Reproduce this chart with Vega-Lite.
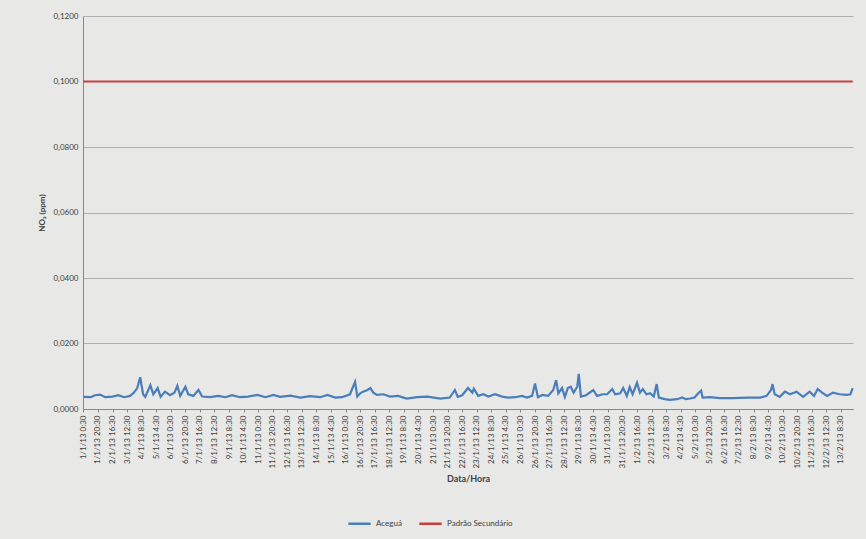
{
  "$schema": "https://vega.github.io/schema/vega-lite/v6.json",
  "autosize": "none",
  "width": 770,
  "height": 393,
  "padding": {"left": 83, "top": 16, "right": 13, "bottom": 130},
  "background": "#e8e8e6",
  "config": {
    "font": "Lato",
    "locale": {"number": {"decimal": ",", "thousands": ".", "grouping": [3], "currency": ["R$", ""]}},
    "view": {"stroke": null, "fill": "#e8e8e6"}
  },
  "data": {"values": [
    {"date": "2013-01-01T00:30", "value": 0.0037, "serie": "Aceguá"},
    {"date": "2013-01-01T10:30", "value": 0.0036, "serie": "Aceguá"},
    {"date": "2013-01-01T16:30", "value": 0.0042, "serie": "Aceguá"},
    {"date": "2013-01-01T23:30", "value": 0.0044, "serie": "Aceguá"},
    {"date": "2013-01-02T06:30", "value": 0.0036, "serie": "Aceguá"},
    {"date": "2013-01-02T16:30", "value": 0.0038, "serie": "Aceguá"},
    {"date": "2013-01-03T00:30", "value": 0.0042, "serie": "Aceguá"},
    {"date": "2013-01-03T08:30", "value": 0.0036, "serie": "Aceguá"},
    {"date": "2013-01-03T16:30", "value": 0.0040, "serie": "Aceguá"},
    {"date": "2013-01-03T21:30", "value": 0.0049, "serie": "Aceguá"},
    {"date": "2013-01-04T02:30", "value": 0.0064, "serie": "Aceguá"},
    {"date": "2013-01-04T06:30", "value": 0.0097, "serie": "Aceguá"},
    {"date": "2013-01-04T10:30", "value": 0.0045, "serie": "Aceguá"},
    {"date": "2013-01-04T13:30", "value": 0.0037, "serie": "Aceguá"},
    {"date": "2013-01-04T20:30", "value": 0.0073, "serie": "Aceguá"},
    {"date": "2013-01-05T00:30", "value": 0.0045, "serie": "Aceguá"},
    {"date": "2013-01-05T06:30", "value": 0.0064, "serie": "Aceguá"},
    {"date": "2013-01-05T10:30", "value": 0.0037, "serie": "Aceguá"},
    {"date": "2013-01-05T16:30", "value": 0.0053, "serie": "Aceguá"},
    {"date": "2013-01-05T23:30", "value": 0.0042, "serie": "Aceguá"},
    {"date": "2013-01-06T05:30", "value": 0.0050, "serie": "Aceguá"},
    {"date": "2013-01-06T09:30", "value": 0.0071, "serie": "Aceguá"},
    {"date": "2013-01-06T13:30", "value": 0.0040, "serie": "Aceguá"},
    {"date": "2013-01-06T20:30", "value": 0.0068, "serie": "Aceguá"},
    {"date": "2013-01-07T00:30", "value": 0.0045, "serie": "Aceguá"},
    {"date": "2013-01-07T07:30", "value": 0.0040, "serie": "Aceguá"},
    {"date": "2013-01-07T14:30", "value": 0.0058, "serie": "Aceguá"},
    {"date": "2013-01-07T19:30", "value": 0.0038, "serie": "Aceguá"},
    {"date": "2013-01-08T06:30", "value": 0.0036, "serie": "Aceguá"},
    {"date": "2013-01-08T17:30", "value": 0.0040, "serie": "Aceguá"},
    {"date": "2013-01-09T03:30", "value": 0.0036, "serie": "Aceguá"},
    {"date": "2013-01-09T12:30", "value": 0.0042, "serie": "Aceguá"},
    {"date": "2013-01-09T23:30", "value": 0.0036, "serie": "Aceguá"},
    {"date": "2013-01-10T10:30", "value": 0.0038, "serie": "Aceguá"},
    {"date": "2013-01-10T23:30", "value": 0.0043, "serie": "Aceguá"},
    {"date": "2013-01-11T10:30", "value": 0.0036, "serie": "Aceguá"},
    {"date": "2013-01-11T21:30", "value": 0.0043, "serie": "Aceguá"},
    {"date": "2013-01-12T06:30", "value": 0.0037, "serie": "Aceguá"},
    {"date": "2013-01-12T20:30", "value": 0.0041, "serie": "Aceguá"},
    {"date": "2013-01-13T10:30", "value": 0.0035, "serie": "Aceguá"},
    {"date": "2013-01-13T23:30", "value": 0.0039, "serie": "Aceguá"},
    {"date": "2013-01-14T13:30", "value": 0.0036, "serie": "Aceguá"},
    {"date": "2013-01-14T23:30", "value": 0.0043, "serie": "Aceguá"},
    {"date": "2013-01-15T10:30", "value": 0.0035, "serie": "Aceguá"},
    {"date": "2013-01-15T19:30", "value": 0.0036, "serie": "Aceguá"},
    {"date": "2013-01-16T06:30", "value": 0.0045, "serie": "Aceguá"},
    {"date": "2013-01-16T13:30", "value": 0.0083, "serie": "Aceguá"},
    {"date": "2013-01-16T16:30", "value": 0.0038, "serie": "Aceguá"},
    {"date": "2013-01-16T20:30", "value": 0.0048, "serie": "Aceguá"},
    {"date": "2013-01-17T00:30", "value": 0.0053, "serie": "Aceguá"},
    {"date": "2013-01-17T06:30", "value": 0.0058, "serie": "Aceguá"},
    {"date": "2013-01-17T10:30", "value": 0.0064, "serie": "Aceguá"},
    {"date": "2013-01-17T14:30", "value": 0.0050, "serie": "Aceguá"},
    {"date": "2013-01-17T19:30", "value": 0.0043, "serie": "Aceguá"},
    {"date": "2013-01-18T04:30", "value": 0.0045, "serie": "Aceguá"},
    {"date": "2013-01-18T13:30", "value": 0.0038, "serie": "Aceguá"},
    {"date": "2013-01-19T00:30", "value": 0.0040, "serie": "Aceguá"},
    {"date": "2013-01-19T12:30", "value": 0.0032, "serie": "Aceguá"},
    {"date": "2013-01-20T02:30", "value": 0.0036, "serie": "Aceguá"},
    {"date": "2013-01-20T16:30", "value": 0.0038, "serie": "Aceguá"},
    {"date": "2013-01-21T10:30", "value": 0.0032, "serie": "Aceguá"},
    {"date": "2013-01-21T23:30", "value": 0.0035, "serie": "Aceguá"},
    {"date": "2013-01-22T06:30", "value": 0.0058, "serie": "Aceguá"},
    {"date": "2013-01-22T10:30", "value": 0.0037, "serie": "Aceguá"},
    {"date": "2013-01-22T16:30", "value": 0.0042, "serie": "Aceguá"},
    {"date": "2013-01-23T00:30", "value": 0.0064, "serie": "Aceguá"},
    {"date": "2013-01-23T06:30", "value": 0.0050, "serie": "Aceguá"},
    {"date": "2013-01-23T08:30", "value": 0.0062, "serie": "Aceguá"},
    {"date": "2013-01-23T14:30", "value": 0.0040, "serie": "Aceguá"},
    {"date": "2013-01-23T21:30", "value": 0.0045, "serie": "Aceguá"},
    {"date": "2013-01-24T04:30", "value": 0.0038, "serie": "Aceguá"},
    {"date": "2013-01-24T13:30", "value": 0.0045, "serie": "Aceguá"},
    {"date": "2013-01-24T23:30", "value": 0.0038, "serie": "Aceguá"},
    {"date": "2013-01-25T07:30", "value": 0.0035, "serie": "Aceguá"},
    {"date": "2013-01-25T17:30", "value": 0.0036, "serie": "Aceguá"},
    {"date": "2013-01-26T02:30", "value": 0.0040, "serie": "Aceguá"},
    {"date": "2013-01-26T09:30", "value": 0.0035, "serie": "Aceguá"},
    {"date": "2013-01-26T16:30", "value": 0.0040, "serie": "Aceguá"},
    {"date": "2013-01-26T20:30", "value": 0.0078, "serie": "Aceguá"},
    {"date": "2013-01-27T00:30", "value": 0.0036, "serie": "Aceguá"},
    {"date": "2013-01-27T06:30", "value": 0.0043, "serie": "Aceguá"},
    {"date": "2013-01-27T14:30", "value": 0.0040, "serie": "Aceguá"},
    {"date": "2013-01-27T21:30", "value": 0.0058, "serie": "Aceguá"},
    {"date": "2013-01-28T01:30", "value": 0.0088, "serie": "Aceguá"},
    {"date": "2013-01-28T04:30", "value": 0.0048, "serie": "Aceguá"},
    {"date": "2013-01-28T09:30", "value": 0.0064, "serie": "Aceguá"},
    {"date": "2013-01-28T13:30", "value": 0.0037, "serie": "Aceguá"},
    {"date": "2013-01-28T17:30", "value": 0.0064, "serie": "Aceguá"},
    {"date": "2013-01-28T21:30", "value": 0.0068, "serie": "Aceguá"},
    {"date": "2013-01-29T01:30", "value": 0.0050, "serie": "Aceguá"},
    {"date": "2013-01-29T06:30", "value": 0.0068, "serie": "Aceguá"},
    {"date": "2013-01-29T08:30", "value": 0.0107, "serie": "Aceguá"},
    {"date": "2013-01-29T11:30", "value": 0.0038, "serie": "Aceguá"},
    {"date": "2013-01-29T18:30", "value": 0.0042, "serie": "Aceguá"},
    {"date": "2013-01-30T04:30", "value": 0.0058, "serie": "Aceguá"},
    {"date": "2013-01-30T09:30", "value": 0.0040, "serie": "Aceguá"},
    {"date": "2013-01-30T17:30", "value": 0.0045, "serie": "Aceguá"},
    {"date": "2013-01-30T23:30", "value": 0.0045, "serie": "Aceguá"},
    {"date": "2013-01-31T06:30", "value": 0.0061, "serie": "Aceguá"},
    {"date": "2013-01-31T10:30", "value": 0.0045, "serie": "Aceguá"},
    {"date": "2013-01-31T17:30", "value": 0.0048, "serie": "Aceguá"},
    {"date": "2013-01-31T21:30", "value": 0.0064, "serie": "Aceguá"},
    {"date": "2013-02-01T02:30", "value": 0.0040, "serie": "Aceguá"},
    {"date": "2013-02-01T06:30", "value": 0.0067, "serie": "Aceguá"},
    {"date": "2013-02-01T10:30", "value": 0.0045, "serie": "Aceguá"},
    {"date": "2013-02-01T16:30", "value": 0.0080, "serie": "Aceguá"},
    {"date": "2013-02-01T20:30", "value": 0.0050, "serie": "Aceguá"},
    {"date": "2013-02-02T00:30", "value": 0.0061, "serie": "Aceguá"},
    {"date": "2013-02-02T05:30", "value": 0.0045, "serie": "Aceguá"},
    {"date": "2013-02-02T10:30", "value": 0.0048, "serie": "Aceguá"},
    {"date": "2013-02-02T15:30", "value": 0.0038, "serie": "Aceguá"},
    {"date": "2013-02-02T19:30", "value": 0.0076, "serie": "Aceguá"},
    {"date": "2013-02-02T22:30", "value": 0.0035, "serie": "Aceguá"},
    {"date": "2013-02-03T06:30", "value": 0.0030, "serie": "Aceguá"},
    {"date": "2013-02-03T13:30", "value": 0.0028, "serie": "Aceguá"},
    {"date": "2013-02-03T23:30", "value": 0.0030, "serie": "Aceguá"},
    {"date": "2013-02-04T06:30", "value": 0.0035, "serie": "Aceguá"},
    {"date": "2013-02-04T11:30", "value": 0.0030, "serie": "Aceguá"},
    {"date": "2013-02-04T17:30", "value": 0.0032, "serie": "Aceguá"},
    {"date": "2013-02-04T23:30", "value": 0.0035, "serie": "Aceguá"},
    {"date": "2013-02-05T04:30", "value": 0.0048, "serie": "Aceguá"},
    {"date": "2013-02-05T08:30", "value": 0.0056, "serie": "Aceguá"},
    {"date": "2013-02-05T10:30", "value": 0.0035, "serie": "Aceguá"},
    {"date": "2013-02-05T20:30", "value": 0.0036, "serie": "Aceguá"},
    {"date": "2013-02-06T10:30", "value": 0.0033, "serie": "Aceguá"},
    {"date": "2013-02-07T04:30", "value": 0.0033, "serie": "Aceguá"},
    {"date": "2013-02-07T23:30", "value": 0.0035, "serie": "Aceguá"},
    {"date": "2013-02-08T17:30", "value": 0.0035, "serie": "Aceguá"},
    {"date": "2013-02-09T02:30", "value": 0.0040, "serie": "Aceguá"},
    {"date": "2013-02-09T08:30", "value": 0.0058, "serie": "Aceguá"},
    {"date": "2013-02-09T10:30", "value": 0.0076, "serie": "Aceguá"},
    {"date": "2013-02-09T13:30", "value": 0.0045, "serie": "Aceguá"},
    {"date": "2013-02-09T20:30", "value": 0.0037, "serie": "Aceguá"},
    {"date": "2013-02-10T03:30", "value": 0.0053, "serie": "Aceguá"},
    {"date": "2013-02-10T10:30", "value": 0.0045, "serie": "Aceguá"},
    {"date": "2013-02-10T19:30", "value": 0.0053, "serie": "Aceguá"},
    {"date": "2013-02-11T04:30", "value": 0.0037, "serie": "Aceguá"},
    {"date": "2013-02-11T13:30", "value": 0.0053, "serie": "Aceguá"},
    {"date": "2013-02-11T19:30", "value": 0.0040, "serie": "Aceguá"},
    {"date": "2013-02-12T00:30", "value": 0.0061, "serie": "Aceguá"},
    {"date": "2013-02-12T06:30", "value": 0.0050, "serie": "Aceguá"},
    {"date": "2013-02-12T13:30", "value": 0.0040, "serie": "Aceguá"},
    {"date": "2013-02-12T21:30", "value": 0.0050, "serie": "Aceguá"},
    {"date": "2013-02-13T06:30", "value": 0.0045, "serie": "Aceguá"},
    {"date": "2013-02-13T16:30", "value": 0.0043, "serie": "Aceguá"},
    {"date": "2013-02-13T21:30", "value": 0.0045, "serie": "Aceguá"},
    {"date": "2013-02-14T00:30", "value": 0.0064, "serie": "Aceguá"},
    {"date": "2013-01-01T00:30", "value": 0.1, "serie": "Padrão Secundário"},
    {"date": "2013-02-14T00:30", "value": 0.1, "serie": "Padrão Secundário"}
  ]},
  "mark": {"type": "line", "strokeWidth": 2.2, "interpolate": "linear"},
  "encoding": {
    "x": {
      "field": "date", "type": "temporal",
      "scale": {"domain": [{"year": 2013, "month": 1, "date": 1, "hours": 0}, {"year": 2013, "month": 2, "date": 14, "hours": 1}], "nice": false},
      "title": "Data/Hora",
      "axis": {
        "values": [
          {"year": 2013, "month": 1, "date": 1, "hours": 0, "minutes": 30},
          {"year": 2013, "month": 1, "date": 1, "hours": 20, "minutes": 30},
          {"year": 2013, "month": 1, "date": 2, "hours": 16, "minutes": 30},
          {"year": 2013, "month": 1, "date": 3, "hours": 12, "minutes": 30},
          {"year": 2013, "month": 1, "date": 4, "hours": 8, "minutes": 30},
          {"year": 2013, "month": 1, "date": 5, "hours": 4, "minutes": 30},
          {"year": 2013, "month": 1, "date": 6, "hours": 0, "minutes": 30},
          {"year": 2013, "month": 1, "date": 6, "hours": 20, "minutes": 30},
          {"year": 2013, "month": 1, "date": 7, "hours": 16, "minutes": 30},
          {"year": 2013, "month": 1, "date": 8, "hours": 12, "minutes": 30},
          {"year": 2013, "month": 1, "date": 9, "hours": 8, "minutes": 30},
          {"year": 2013, "month": 1, "date": 10, "hours": 4, "minutes": 30},
          {"year": 2013, "month": 1, "date": 11, "hours": 0, "minutes": 30},
          {"year": 2013, "month": 1, "date": 11, "hours": 20, "minutes": 30},
          {"year": 2013, "month": 1, "date": 12, "hours": 16, "minutes": 30},
          {"year": 2013, "month": 1, "date": 13, "hours": 12, "minutes": 30},
          {"year": 2013, "month": 1, "date": 14, "hours": 8, "minutes": 30},
          {"year": 2013, "month": 1, "date": 15, "hours": 4, "minutes": 30},
          {"year": 2013, "month": 1, "date": 16, "hours": 0, "minutes": 30},
          {"year": 2013, "month": 1, "date": 16, "hours": 20, "minutes": 30},
          {"year": 2013, "month": 1, "date": 17, "hours": 16, "minutes": 30},
          {"year": 2013, "month": 1, "date": 18, "hours": 12, "minutes": 30},
          {"year": 2013, "month": 1, "date": 19, "hours": 8, "minutes": 30},
          {"year": 2013, "month": 1, "date": 20, "hours": 4, "minutes": 30},
          {"year": 2013, "month": 1, "date": 21, "hours": 0, "minutes": 30},
          {"year": 2013, "month": 1, "date": 21, "hours": 20, "minutes": 30},
          {"year": 2013, "month": 1, "date": 22, "hours": 16, "minutes": 30},
          {"year": 2013, "month": 1, "date": 23, "hours": 12, "minutes": 30},
          {"year": 2013, "month": 1, "date": 24, "hours": 8, "minutes": 30},
          {"year": 2013, "month": 1, "date": 25, "hours": 4, "minutes": 30},
          {"year": 2013, "month": 1, "date": 26, "hours": 0, "minutes": 30},
          {"year": 2013, "month": 1, "date": 26, "hours": 20, "minutes": 30},
          {"year": 2013, "month": 1, "date": 27, "hours": 16, "minutes": 30},
          {"year": 2013, "month": 1, "date": 28, "hours": 12, "minutes": 30},
          {"year": 2013, "month": 1, "date": 29, "hours": 8, "minutes": 30},
          {"year": 2013, "month": 1, "date": 30, "hours": 4, "minutes": 30},
          {"year": 2013, "month": 1, "date": 31, "hours": 0, "minutes": 30},
          {"year": 2013, "month": 1, "date": 31, "hours": 20, "minutes": 30},
          {"year": 2013, "month": 2, "date": 1, "hours": 16, "minutes": 30},
          {"year": 2013, "month": 2, "date": 2, "hours": 12, "minutes": 30},
          {"year": 2013, "month": 2, "date": 3, "hours": 8, "minutes": 30},
          {"year": 2013, "month": 2, "date": 4, "hours": 4, "minutes": 30},
          {"year": 2013, "month": 2, "date": 5, "hours": 0, "minutes": 30},
          {"year": 2013, "month": 2, "date": 5, "hours": 20, "minutes": 30},
          {"year": 2013, "month": 2, "date": 6, "hours": 16, "minutes": 30},
          {"year": 2013, "month": 2, "date": 7, "hours": 12, "minutes": 30},
          {"year": 2013, "month": 2, "date": 8, "hours": 8, "minutes": 30},
          {"year": 2013, "month": 2, "date": 9, "hours": 4, "minutes": 30},
          {"year": 2013, "month": 2, "date": 10, "hours": 0, "minutes": 30},
          {"year": 2013, "month": 2, "date": 10, "hours": 20, "minutes": 30},
          {"year": 2013, "month": 2, "date": 11, "hours": 16, "minutes": 30},
          {"year": 2013, "month": 2, "date": 12, "hours": 12, "minutes": 30},
          {"year": 2013, "month": 2, "date": 13, "hours": 8, "minutes": 30}
        ],
        "format": "%-d/%-m/%y %-H:%M",
        "formatType": "time",
        "labelAngle": -90,
        "labelFontSize": 8,
        "labelColor": "#404040",
        "labelPadding": 3,
        "labelOverlap": false,
        "labelBound": false,
        "labelFlush": false,
        "tickSize": 3,
        "tickColor": "#888888",
        "domainColor": "#888888",
        "grid": false,
        "titleFontSize": 9,
        "titleFontWeight": "bold",
        "titleColor": "#404040",
        "titlePadding": 6
      }
    },
    "y": {
      "field": "value", "type": "quantitative",
      "scale": {"domain": [0, 0.12], "nice": false},
      "title": "NO₂ (ppm)",
      "axis": {
        "values": [0, 0.02, 0.04, 0.06, 0.08, 0.1, 0.12],
        "format": ".4f",
        "labelFontSize": 8,
        "labelColor": "#404040",
        "labelPadding": 5,
        "tickSize": 0,
        "domainColor": "#888888",
        "gridColor": "#b0b0b0",
        "gridWidth": 1,
        "titleFontSize": 8,
        "titleFontWeight": "bold",
        "titleColor": "#404040",
        "titlePadding": 6
      }
    },
    "color": {
      "field": "serie", "type": "nominal",
      "scale": {"domain": ["Aceguá", "Padrão Secundário"], "range": ["#4a7ebb", "#c8403c"]},
      "legend": {
        "title": null,
        "orient": "none",
        "direction": "horizontal",
        "legendX": 264,
        "legendY": 495,
        "symbolType": "stroke",
        "symbolSize": 500,
        "symbolStrokeWidth": 2.5,
        "labelFontSize": 8,
        "labelColor": "#404040",
        "columnPadding": 12
      }
    }
  }
}
